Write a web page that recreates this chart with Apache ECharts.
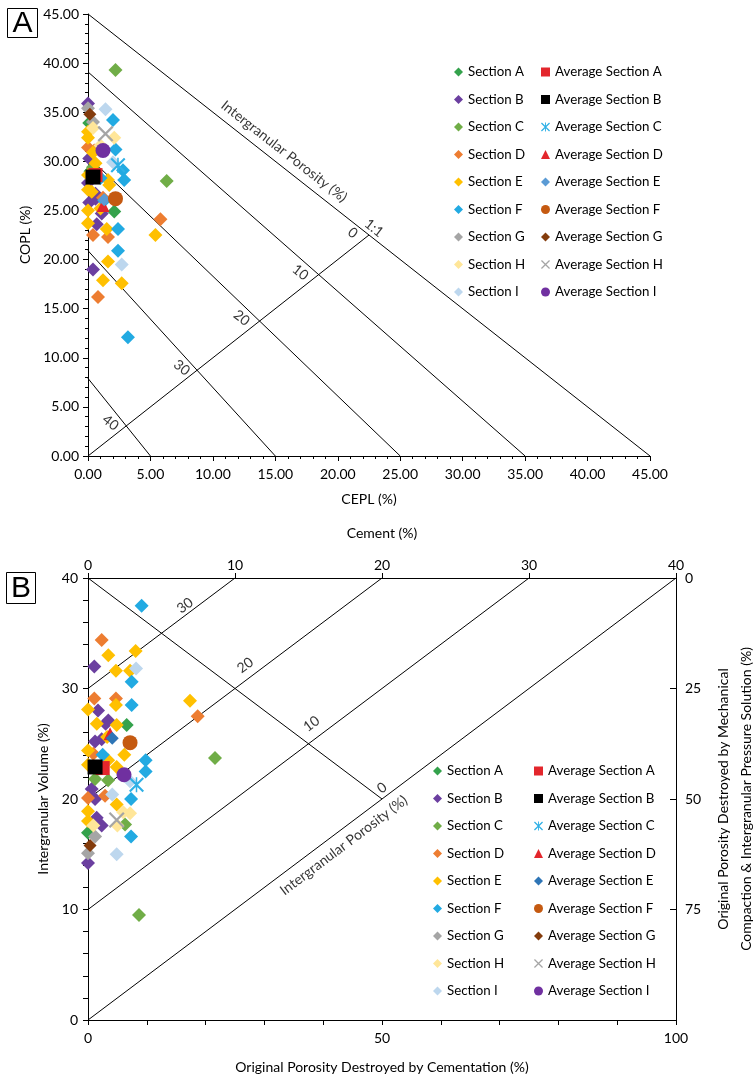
<!DOCTYPE html>
<html><head><meta charset="utf-8">
<script src="https://cdn.jsdelivr.net/npm/echarts@6/dist/echarts.min.js"></script>
<style>html,body{margin:0;padding:0;background:#fff}#c{width:755px;height:1080px}</style>
</head><body><div id="c"></div>
<script>
// ---------- names ----------
const sectionNames = ['Section A','Section B','Section C','Section D','Section E','Section F','Section G','Section H','Section I'];
const averageNames = ['Average Section A','Average Section B','Average Section C','Average Section D','Average Section E','Average Section F','Average Section G','Average Section H','Average Section I'];

// ---------- Panel A : [CEPL, COPL] ----------
const aSecA = [[0.1,33.9],[2.1,24.9],[0.2,29.0]];
const aSecB = [[0,35.9],[0.1,30.3],[0.6,26.7],[0.1,25.8],[0.7,23.6],[0.4,19.0],[0,27.8],[1.1,24.7],[0.6,26.2]];
const aSecC = [[2.2,39.3],[6.3,28.0],[0.4,29.4]];
const aSecD = [[0,31.4],[0.4,22.5],[1.6,22.3],[5.8,24.1],[0.8,16.2],[0.5,31.1],[1.2,26.3]];
const aSecE = [[0,33.0],[0,32.4],[0.4,30.9],[0,28.6],[1.7,27.6],[0,27.1],[1.6,28.1],[0,25.0],[0,23.7],[1.5,23.1],[5.4,22.5],[1.6,19.8],[1.2,17.9],[2.7,17.6],[0.6,29.8],[1.0,25.2],[0.3,26.9]];
const aSecF = [[2.0,34.2],[2.2,31.2],[2.8,29.1],[2.9,28.1],[2.4,23.1],[2.4,20.9],[3.2,12.1],[1.0,28.3],[1.3,26.0]];
const aSecG = [[0,35.4],[0.4,34.0]];
const aSecH = [[0.4,33.4],[2.1,32.4],[1.0,31.6]];
const aSecI = [[1.4,35.3],[2.0,29.9],[2.7,19.5]];
const aAvg = [[0.6,28.6],[0.4,28.4],[2.4,29.6],[1.2,25.5],[1.3,26.1],[2.2,26.2],[0.15,34.8],[1.4,32.8],[1.2,31.1]];

// ---------- Panel B : [Cement, Intergranular Volume] ----------
const bSecA = [[2.63,26.7],[0,16.95]];
const bSecB = [[0.43,32.0],[0.68,28.0],[1.38,27.1],[0.48,25.2],[0.93,25.4],[0.25,20.9],[0.48,20.0],[0.59,18.3],[0.93,17.6],[0,14.2],[1.2,26.8]];
const bSecC = [[8.64,23.7],[0.48,21.8],[1.37,21.7],[2.52,17.7],[3.47,9.5]];
const bSecD = [[0.93,34.4],[0.43,29.1],[1.9,29.1],[7.46,27.5],[0.36,24.1],[0,20.1],[1.16,20.3]];
const bSecE = [[1.38,33.0],[3.24,33.4],[1.9,31.6],[2.86,31.6],[0,28.1],[1.9,28.5],[0.6,26.8],[1.95,26.7],[6.94,28.9],[0,24.4],[2.47,24.0],[1.37,23.5],[0,23.1],[1.95,22.9],[1.95,19.5],[0,18.9],[0,18.0],[1.3,25.6]];
const bSecF = [[3.65,37.5],[2.97,30.6],[2.97,28.5],[3.92,23.5],[3.92,22.5],[2.93,20.0],[2.93,16.6],[1.0,24.0]];
const bSecG = [[0.48,16.6],[0,15.1]];
const bSecH = [[2.86,18.7],[0.36,17.6],[2.0,17.6],[2.4,18.8]];
const bSecI = [[3.27,31.8],[2.86,21.6],[1.65,20.4],[1.95,15.0]];
const bAvg = [[1.0,22.8],[0.48,22.9],[3.3,21.3],[1.5,25.9],[1.65,25.5],[2.86,25.1],[0.14,15.8],[1.95,18.1],[2.45,22.2]];

// ---------- reference lines & their labels ----------
const aRefLines = [[[0,45],[45,0]],[[0,39.1],[35,0]],[[0,30.5],[25,0]],[[0,20.9],[15,0]],[[0,7.9],[5,0]],[[0,0],[22.5,22.5]]];
const aLineLabels = [[21.2,22.7,'0'],[22.9,23.2,'1:1'],[17.0,18.7,'10'],[12.3,14.05,'20'],[7.5,9.0,'30'],[1.8,3.4,'40']];
const aTitleLabel = [[15.7,31.0,'Intergranular Porosity (%)']];
const bRefLines = [[[0,30],[10,40]],[[0,20],[20,40]],[[0,10],[30,40]],[[0,0],[40,40]],[[0,40],[20,20]]];
const bLineLabels = [[6.6,37.5,'30'],[10.7,32.1,'20'],[15.2,26.8,'10'],[20.0,21.0,'0']];
const bTitleLabel = [[17.4,15.8,'Intergranular Porosity (%)']];

// ---------- styles ----------
const FONT = 'Lato, "Open Sans", sans-serif';
const measureCtx = document.createElement('canvas').getContext('2d');
measureCtx.font = '100px Lato';
const avgTextW100 = measureCtx.measureText('Average Section A').width;
const secTextW100 = measureCtx.measureText('Section A').width;
const LEG_FS = Math.max(11, Math.min(14, 107 / avgTextW100 * 100));
const secTextW = secTextW100 * LEG_FS / 100;

const secColors = ['#34A24C','#6B3FA0','#70AD47','#ED7D31','#FFC000','#22AAE2','#A5A5A5','#FFE699','#BDD7EE'];
const X_PATH = 'path://M0,1 L1,0 L10,9 L9,10 Z M9,0 L10,1 L1,10 L0,9 Z';
const STAR_PATH = 'path://M0,1 L1,0 L10,9 L9,10 Z M9,0 L10,1 L1,10 L0,9 Z M4.5,0 L5.5,0 L5.5,10 L4.5,10 Z';
const avgSymbols = ['rect','rect',STAR_PATH,'triangle','diamond','circle','diamond',X_PATH,'circle'];
const avgSizes = [14,15,15,13,13,15,13,16,15];
const avgColorsA = ['#E3262C','#000000','#2FB0E6','#E3262C','#5B9BD5','#C55A11','#843C0C','#A5A5A5','#7030A0'];
const avgColorsB = ['#E3262C','#000000','#2FB0E6','#E3262C','#2E75B6','#C55A11','#843C0C','#A5A5A5','#7030A0'];
const aSecs = [aSecA,aSecB,aSecC,aSecD,aSecE,aSecF,aSecG,aSecH,aSecI];
const bSecs = [bSecA,bSecB,bSecC,bSecD,bSecE,bSecF,bSecG,bSecH,bSecI];

const series = [];
function addRefLines(lines, xi, yi){
  lines.forEach(l => series.push({type:'line', data:l, xAxisIndex:xi, yAxisIndex:yi, symbol:'none', silent:true,
    lineStyle:{color:'#000', width:1}, z:1, animation:false}));
}
function addLabels(items, xi, yi, rot, size){
  series.push({type:'scatter', data:items, xAxisIndex:xi, yAxisIndex:yi, symbolSize:1, silent:true, z:1,
    itemStyle:{color:'transparent'},
    label:{show:true, position:'inside', rotate:rot, formatter:p=>p.data[2], color:'#000', fontSize:size, fontFamily:FONT}});
}
addRefLines(aRefLines,0,0);
addLabels(aLineLabels,0,0,-38,14);
addLabels(aTitleLabel,0,0,-38,14);
addRefLines(bRefLines,1,1);
addLabels(bLineLabels,1,1,37,14);
addLabels(bTitleLabel,1,1,37,14);
function addPanel(secs, avg, avgColors, xi, yi){
  secs.forEach((d,i)=>series.push({type:'scatter', name:sectionNames[i], data:d, xAxisIndex:xi, yAxisIndex:yi,
    symbol:'diamond', symbolSize:14, itemStyle:{color:secColors[i], opacity:1}, z:3, animation:false}));
  avg.forEach((p,i)=>series.push({type:'scatter', name:averageNames[i], data:[p], xAxisIndex:xi, yAxisIndex:yi,
    symbol:avgSymbols[i], symbolSize:avgSizes[i], itemStyle:{color:avgColors[i], opacity:1}, z:4, animation:false}));
}
addPanel(aSecs, aAvg, avgColorsA, 0, 0);
addPanel(bSecs, bAvg, avgColorsB, 1, 1);

const axisCommon = {
  splitLine:{show:false},
  axisLine:{onZero:false, lineStyle:{color:'#000', width:1}},
  axisTick:{lineStyle:{color:'#000'}, length:5},
  axisLabel:{color:'#000', fontSize:14, fontFamily:FONT},
  nameTextStyle:{color:'#000', fontSize:14, fontFamily:FONT},
  nameLocation:'middle'
};
function ax(o){ return Object.assign({}, JSON.parse(JSON.stringify(axisCommon)), o, {
  axisLabel:Object.assign({}, axisCommon.axisLabel, o.axisLabel||{}),
  axisTick:Object.assign({}, axisCommon.axisTick, o.axisTick||{}) }); }
function legendBlock(names, icons, colors, left, top, gap){
  return {orient:'vertical', left, top, padding:0, itemGap:gap, itemWidth:9, itemHeight:9, selectedMode:false,
    textStyle:{fontSize:LEG_FS, fontFamily:FONT, color:'#000', lineHeight:16},
    data:names.map((n,i)=>({name:n, icon:icons[i], itemStyle:{color:colors[i]}}))};
}
const diamonds = sectionNames.map(()=> 'diamond');
const bCol1Left = Math.round(503 - secTextW - 14);

const option = {
  animation:false,
  backgroundColor:'#fff',
  grid:[
    {left:88, top:14, width:562, height:442, containLabel:false, outerBoundsMode:'none'},
    {left:88, top:578, width:588, height:442, containLabel:false, outerBoundsMode:'none'}
  ],
  xAxis:[
    ax({type:'value', gridIndex:0, min:0, max:45, interval:5, name:'CEPL (%)', nameGap:36,
      axisLabel:{formatter:v=>v.toFixed(2), margin:11},
      minorTick:{show:true, splitNumber:5, length:3, lineStyle:{color:'#000'}}}),
    ax({type:'value', gridIndex:1, position:'top', min:0, max:40, interval:10, name:'Cement (%)', nameGap:38,
      axisLabel:{margin:6}}),
    ax({type:'value', gridIndex:1, position:'bottom', min:0, max:100, interval:50, name:'Original Porosity Destroyed by Cementation (%)', nameGap:40,
      axisLabel:{margin:11},
      minorTick:{show:true, splitNumber:5, length:5, lineStyle:{color:'#000'}}})
  ],
  yAxis:[
    ax({type:'value', gridIndex:0, min:0, max:45, interval:5, name:'COPL (%)', nameGap:55,
      axisLabel:{formatter:v=>v.toFixed(2), margin:9},
      minorTick:{show:true, splitNumber:5, length:3, lineStyle:{color:'#000'}}}),
    ax({type:'value', gridIndex:1, position:'left', min:0, max:40, interval:10, name:'Intergranular Volume (%)', nameGap:34,
      axisLabel:{margin:10},
      minorTick:{show:true, splitNumber:5, length:5, lineStyle:{color:'#000'}}}),
    ax({type:'value', gridIndex:1, position:'right', min:0, max:100, interval:25, inverse:true,
      name:'Original Porosity Destroyed by Mechanical\nCompaction & Intergranular Pressure Solution (%)', nameGap:27, nameRotate:90,
      nameTextStyle:{color:'#000', fontSize:14, fontFamily:FONT, lineHeight:23},
      axisTick:{inside:true, length:6},
      axisLabel:{margin:9, formatter:v=> v===100 ? '' : String(v)}})
  ],
  legend:[
    legendBlock(sectionNames, diamonds, secColors, 454, 64, 11.5),
    legendBlock(averageNames, avgSymbols, avgColorsA, 541, 64, 11.5),
    legendBlock(sectionNames, diamonds, secColors, bCol1Left, 763, 11.5),
    legendBlock(averageNames, avgSymbols, avgColorsB, 534, 763, 11.5)
  ],
  graphic:[
    {type:'group', left:7, top:8, children:[
      {type:'rect', shape:{x:0,y:0,width:30,height:29}, style:{fill:'#fff', stroke:'#000', lineWidth:1}},
      {type:'text', x:15, y:15, style:{text:'A', fontSize:30, fontFamily:'"Liberation Sans", sans-serif', align:'center', verticalAlign:'middle', fill:'#000'}}
    ]},
    {type:'group', left:6, top:572, children:[
      {type:'rect', shape:{x:0,y:0,width:29,height:31}, style:{fill:'#fff', stroke:'#000', lineWidth:1}},
      {type:'text', x:14.5, y:16, style:{text:'B', fontSize:30, fontFamily:'"Liberation Sans", sans-serif', align:'center', verticalAlign:'middle', fill:'#000'}}
    ]}
  ],
  series
};
const chart = echarts.init(document.getElementById('c'), null, {renderer:'canvas'});
chart.setOption(option);
</script>
</body></html>
